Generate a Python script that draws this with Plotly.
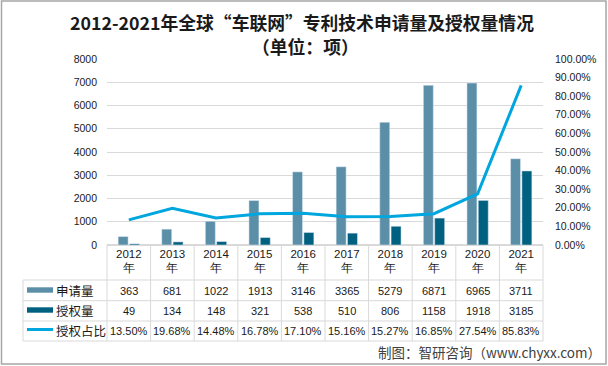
import plotly.graph_objects as go

years = ["2012年", "2013年", "2014年", "2015年", "2016年", "2017年", "2018年", "2019年", "2020年", "2021年"]
year_labels = ["2012<br>年", "2013<br>年", "2014<br>年", "2015<br>年", "2016<br>年",
               "2017<br>年", "2018<br>年", "2019<br>年", "2020<br>年", "2021<br>年"]
applications = [363, 681, 1022, 1913, 3146, 3365, 5279, 6871, 6965, 3711]
grants = [49, 134, 148, 321, 538, 510, 806, 1158, 1918, 3185]
grant_ratio = [0.1350, 0.1968, 0.1448, 0.1678, 0.1710, 0.1516, 0.1527, 0.1685, 0.2754, 0.8583]
series_names = ["申请量", "授权量", "授权占比"]

C_APP = "#5B8FA8"
C_GRANT = "#00607F"
C_LINE = "#00A6DE"
GRID = "#D9D9D9"
TXT = "#404040"

W, H = 608, 366
L, R, T, B = 107, 65, 59, 121
PW, PH = W - L - R, H - T - B


def X(px):
    return (px - L) / PW


def Y(py):
    return (H - B - py) / PH


fig = go.Figure()
fig.add_trace(go.Bar(x=years, y=applications, name=series_names[0], marker_color=C_APP, yaxis="y"))
fig.add_trace(go.Bar(x=years, y=grants, name=series_names[1], marker_color=C_GRANT, yaxis="y"))
fig.add_trace(go.Scatter(x=years, y=grant_ratio, name=series_names[2], mode="lines",
                         line=dict(color=C_LINE, width=3), yaxis="y2"))

shapes = []
ann = []

# table grid
row_lines = [280, 300.7, 321, 341]
for py in row_lines:
    shapes.append(dict(type="line", xref="paper", yref="paper", x0=X(23), x1=1, y0=Y(py), y1=Y(py),
                       line=dict(color=GRID, width=1)))
for k in range(11):
    shapes.append(dict(type="line", xref="paper", yref="paper", x0=k / 10, x1=k / 10, y0=0, y1=Y(341),
                       line=dict(color=GRID, width=1)))
shapes.append(dict(type="line", xref="paper", yref="paper", x0=X(23), x1=X(23), y0=Y(280), y1=Y(341),
                   line=dict(color=GRID, width=1)))

# legend keys
shapes.append(dict(type="rect", xref="paper", yref="paper", x0=X(27), x1=X(53), y0=Y(292.7), y1=Y(287.3),
                   fillcolor=C_APP, line=dict(width=0)))
shapes.append(dict(type="rect", xref="paper", yref="paper", x0=X(27), x1=X(53), y0=Y(312.7), y1=Y(307.3),
                   fillcolor=C_GRANT, line=dict(width=0)))
shapes.append(dict(type="line", xref="paper", yref="paper", x0=X(27), x1=X(53), y0=Y(329.5), y1=Y(329.5),
                   line=dict(color=C_LINE, width=3)))

# outer border
shapes.append(dict(type="rect", xref="paper", yref="paper", x0=X(1.5), x1=X(606), y0=Y(364), y1=Y(1),
                   line=dict(color="#A6A6A6", width=1.5)))

row_y = [290.5, 310.5, 330.5]
for i, name in enumerate(series_names):
    ann.append(dict(x=X(54), y=Y(row_y[i]), xref="paper", yref="paper", text=name, showarrow=False,
                    xanchor="left", yanchor="middle",
                    font=dict(family="Noto Sans CJK SC", size=12.5, color="#1a1a1a")))
for j, yr in enumerate(years):
    vals = [str(applications[j]), str(grants[j]), f"{grant_ratio[j] * 100:.2f}%"]
    for i, v in enumerate(vals):
        ann.append(dict(x=yr, y=Y(row_y[i]), xref="x", yref="paper", text=v, showarrow=False,
                        xanchor="center", yanchor="middle",
                        font=dict(family="Liberation Sans", size=11, color="#1a1a1a")))

# titles
ann.append(dict(x=X(302), y=Y(22), xref="paper", yref="paper",
                text="<b>2012-2021年全球“车联网”专利技术申请量及授权量情况</b>", showarrow=False,
                xanchor="center", yanchor="middle",
                font=dict(family="Noto Sans CJK SC", size=17.8, color="#1a1a1a")))
ann.append(dict(x=X(305), y=Y(46), xref="paper", yref="paper",
                text="<b>（单位：项）</b>", showarrow=False, xanchor="center", yanchor="middle",
                font=dict(family="Noto Sans CJK SC", size=17.8, color="#1a1a1a")))
ann.append(dict(x=X(603), y=Y(352), xref="paper", yref="paper",
                text="制图：智研咨询（www.chyxx.com）", showarrow=False, xanchor="right", yanchor="middle",
                font=dict(family="Noto Sans CJK SC", size=13.5, color=TXT)))

fig.update_layout(
    width=W, height=H,
    margin=dict(l=L, r=R, t=T, b=B, pad=0),
    paper_bgcolor="white", plot_bgcolor="white",
    showlegend=False,
    barmode="group", bargap=0.48, bargroupgap=0.12,
    xaxis=dict(type="category", tickvals=years, ticktext=year_labels, showgrid=False, showline=False,
               ticks="", tickfont=dict(family="Liberation Sans", size=11.5, color="#1a1a1a"),
               ticklabelstandoff=0),
    yaxis=dict(range=[0, 8000], dtick=1000, showgrid=True, gridcolor=GRID, gridwidth=1,
               zeroline=True, zerolinecolor=GRID, showline=False, ticks="",
               tickfont=dict(family="Liberation Sans", size=10.5, color="#1a1a1a"),
               ticklabelstandoff=9),
    yaxis2=dict(range=[0, 1], dtick=0.1, tickformat=".2%", overlaying="y", side="right",
                showgrid=False, zeroline=False, showline=False, ticks="",
                tickfont=dict(family="Liberation Sans", size=10.5, color="#1a1a1a"),
                ticklabelstandoff=11),
    shapes=shapes, annotations=ann,
)

fig.write_html("out.html", config={"displayModeBar": False},
               post_script="document.body.style.margin='0';document.body.style.overflow='hidden';")
